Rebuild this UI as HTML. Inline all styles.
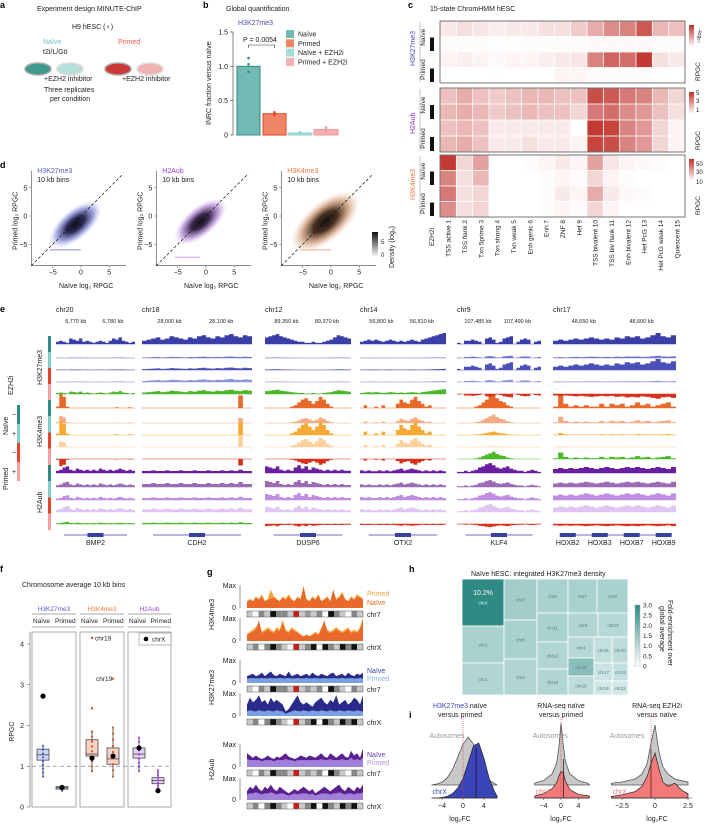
<!DOCTYPE html>
<html><head><meta charset="utf-8">
<style>
html,body{margin:0;padding:0;background:#fff;}
svg{display:block;font-family:"Liberation Sans",sans-serif;}
text{font-family:"Liberation Sans",sans-serif;}
</style></head>
<body>
<svg id="fig" xmlns="http://www.w3.org/2000/svg" width="707" height="824" viewBox="0 0 707 824">
<defs>
<radialGradient id="gK27" cx="50%" cy="50%" r="50%"><stop offset="0" stop-color="#111"/><stop offset="0.35" stop-color="#2a2a55"/><stop offset="0.7" stop-color="#8d92d8" stop-opacity="0.8"/><stop offset="1" stop-color="#c8ccf2" stop-opacity="0"/></radialGradient>
<radialGradient id="gH2A" cx="50%" cy="50%" r="50%"><stop offset="0" stop-color="#111"/><stop offset="0.35" stop-color="#3a2a50"/><stop offset="0.7" stop-color="#b690d8" stop-opacity="0.8"/><stop offset="1" stop-color="#e2ccf2" stop-opacity="0"/></radialGradient>
<radialGradient id="gK4" cx="50%" cy="50%" r="50%"><stop offset="0" stop-color="#111"/><stop offset="0.35" stop-color="#4a3020"/><stop offset="0.7" stop-color="#d8a888" stop-opacity="0.8"/><stop offset="1" stop-color="#f2dccc" stop-opacity="0"/></radialGradient>
<linearGradient id="gDen" x1="0" y1="0" x2="0" y2="1"><stop offset="0" stop-color="#111"/><stop offset="1" stop-color="#f4f4f4"/></linearGradient>
<linearGradient id="gRed" x1="0" y1="0" x2="0" y2="1"><stop offset="0" stop-color="#c0302a"/><stop offset="1" stop-color="#fff"/></linearGradient>
<linearGradient id="gTeal" x1="0" y1="0" x2="0" y2="1"><stop offset="0" stop-color="#2f8a84"/><stop offset="1" stop-color="#fff"/></linearGradient>
</defs>

<!-- Panel a -->
<g font-size="7">
<text x="0" y="8" font-weight="bold" font-size="9">a</text>
<text x="37" y="11" fill="#222">Experiment design MINUTE-ChIP</text>
<text x="72" y="29" fill="#222">H9 hESC (♀)</text>
<text x="43" y="44" fill="#6cc3bc">Naïve</text>
<text x="118" y="44" fill="#e8564a">Primed</text>
<text x="43" y="54" fill="#222">t2i/L/Gö</text>
<ellipse cx="38" cy="69" rx="13" ry="6" fill="#3f9a8e" stroke="#aaa" stroke-width="1.5"/>
<ellipse cx="70" cy="69" rx="13" ry="6" fill="#b7e0da" stroke="#ddd" stroke-width="1.5"/>
<ellipse cx="118" cy="69" rx="13" ry="6" fill="#cc3838" stroke="#aaa" stroke-width="1.5"/>
<ellipse cx="150" cy="69" rx="13" ry="6" fill="#eeb4b4" stroke="#ddd" stroke-width="1.5"/>
<text x="44" y="81" fill="#222">+EZH2 inhibitor</text>
<text x="122" y="81" fill="#222">+EZH2 inhibitor</text>
<text x="44" y="92" fill="#222">Three replicates</text>
<text x="50" y="101" fill="#222">per condition</text>
</g>

<g id="pb" font-size="7"></g>
<g id="pc" font-size="6.5"></g>
<g id="pd" font-size="7"></g>
<g id="pe" font-size="6.5"></g>
<g id="pf" font-size="6.5"></g>
<g id="pg" font-size="7"></g>
<g id="ph" font-size="6.5"></g>
<g id="pi" font-size="7"></g>
</svg>
<script>
// ---------- data ----------
const bCategories = ["Naïve","Primed","Naïve + EZH2i","Primed + EZH2i"];
const bValues = [1.0, 0.31, 0.03, 0.08];
const bReplicates = [[1.12,0.92,1.03],[0.33,0.29,0.31],[0.04,0.02,0.03],[0.11,0.06,0.08]];
const bTicks = [0, 0.5, 1.0, 1.5];

const cStates = ["TSS active 1","TSS flank 2","Txn 5prime 3","Txn strong 4","Txn weak 5","Enh genic 6","Enh 7","ZNF 8","Het 9","TSS bivalent 10","TSS biv flank 11","Enh bivalent 12","Het PcG 13","Het PcG weak 14","Quiescent 15"];
const cK27 = [[.1,.15,.12,.08,.1,.1,.15,.15,.25,.4,.55,.6,.8,.35,.3],[.02,.02,.02,.01,.01,.02,.02,.02,.02,.03,.03,.03,.03,.02,.02],[.05,.08,.05,.03,.05,.05,.08,.1,.12,.6,.75,.7,.95,.15,.1],[0,0,0,0,0,0,0,.05,.05,.02,.02,.02,.02,0,0]];
const cH2A = [[.3,.4,.3,.25,.3,.35,.35,.3,.3,.85,.8,.65,.6,.35,.2],[.35,.4,.35,.25,.3,.35,.3,.3,.2,.65,.7,.55,.5,.3,.15],[.3,.35,.3,.1,.1,.1,.1,.1,0,.95,.9,.6,.5,.2,.05],[.35,.4,.3,.1,.1,.15,.1,.1,.05,.9,.85,.6,.5,.2,.05]];
const cK4 = [[.95,.2,.45,0,0,.02,.05,.1,.05,.45,.12,.05,.03,.02,0],[.6,.15,.35,0,0,0,.02,.05,.02,.2,.05,.02,0,0,0],[.65,.15,.2,0,0,0,.02,.1,.05,.4,.1,.03,.02,0,0],[.55,.15,.2,0,0,0,.02,.05,.02,.2,.05,0,0,0,0]];

const dMarks = ["H3K27me3","H2Aub","H3K4me3"];
const dCentersX = [-1, -1, -1];
const dCentersY = [-1.5, -1, -1];
const dTicks = [-5, 0, 5];

const eChroms = ["chr20","chr18","chr12","chr14","chr9","chr17"];
const eKb = [["6,770 kb","6,780 kb"],["28,000 kb","28,100 kb"],["89,350 kb","89,370 kb"],["56,800 kb","56,810 kb"],["107,485 kb","107,490 kb"],["48,650 kb","48,600 kb"]];
const eGenes = [["BMP2"],["CDH2"],["DUSP6"],["OTX2"],["KLF4"],["HOXB2","HOXB3","HOXB7","HOXB9"]];
const eK27 = [[.2,.3,.2,.1,.5,.4,.3,.5,.2,.3,.2,.1,.2,.3,.2,.1,.3,.5,.4,.6,.3,.2,.1,.2],[.3,.4,.5,.6,.4,.5,.7,.6,.5,.4,.6,.5,.7,.8,.6,.5,.7,.6,.8,.9,.7,.6,.8,.7],[.6,.7,.8,.9,.7,.6,.5,.4,.3,.2,.2,.1,.1,.2,.1,.1,.2,.3,.4,.6,.8,.7,.6,.5],[.2,.3,.4,.3,.4,.3,.2,.3,.4,.3,.2,.3,.2,.3,.4,.3,.2,.4,.5,.6,.7,.8,.9,1],[.1,0,.3,.3,.4,.3,.2,0,.5,.6,.4,.1,.2,.5,.6,.7,0,.2,.4,.5,.4,0,.2,.3],[.3,.4,.3,.4,.5,.4,.5,.6,.5,.4,.5,.4,.6,.5,.7,.6,.7,.5,.6,.8,1,.7,.6,.8]];
const eK4 = [[.1,1,.8,.1,0,0,0,0,0,0,0,0,0,0,0,0,0,0,.05,0,0,0,.05,0],[0,0,0,0,0,0,0,0,0,0,0,0,0,0,0,0,0,0,0,0,0,.9,0,0],[0,0,0,0,0,0,0,.1,.2,.4,.6,.7,.5,.3,.5,.8,.6,.3,.1,0,0,0,0,0],[0,.2,0,0,.1,0,.2,0,0,0,.3,.6,.4,.3,.6,.8,.5,.3,.1,.2,0,0,0,0],[0,0,0,0,0,.1,.2,.4,.6,.8,1,.7,.5,.4,.2,.1,0,0,0,0,0,0,0,0],[.1,.9,.3,.1,.2,.1,.2,.1,.1,.3,.1,.3,.2,.3,.1,.2,.4,.2,.3,.1,.2,.3,.4,.1]];
const eH2A = [[.2,.3,.5,.6,.3,.2,.4,.3,.2,.3,.2,.3,.2,.4,.3,.2,.3,.2,.3,.4,.3,.2,.3,.2],[.3,.3,.4,.3,.3,.4,.3,.3,.4,.3,.3,.4,.3,.3,.4,.3,.3,.4,.3,.4,.3,.5,.3,.3],[.6,.5,.4,.6,.3,.2,.3,.2,.5,.7,.4,.6,.3,.5,.4,.3,.2,.3,.2,.3,.2,.3,.2,.2],[.3,.2,.3,.2,.2,.3,.2,.3,.2,.3,.4,.5,.3,.4,.5,.4,.3,.2,.3,.2,.3,.2,.3,.2],[.1,.1,.2,.1,.2,.3,.5,.6,.8,.9,.7,.5,.4,.5,.6,.4,.3,.2,.2,.1,.2,.3,.2,.1],[.4,.5,.4,.5,.4,.5,.6,.5,.4,.5,.6,.5,.4,.5,.6,.5,.6,.5,.4,.5,.6,.5,.4,.6]];
const eK27Scale = [[1,1,1,1,1,1],[.08,.15,.05,.05,.3,.2],[.1,.25,.08,.1,1,1],[.1,.3,.05,.08,.3,.1]];
const eK4Scale = [[1,1,1,1,1,1],[.5,.4,.5,.5,.6,.5],[1,1,1.2,1.2,.25,.15],[.4,.9,.8,.8,.05,.05]];
const eH2AScale = [[1,.6,1,.8,1,.9],[.8,.9,.9,.8,.7,.8],[.7,.6,.9,.9,.8,1],[.9,.8,.8,.8,.8,1]];
const eK27Diff = [1,1,1,1,-1,-1];
const eK4Diff = [-1,-1,-1,-1,1,1];
const eH2ADiff = [1,1,-1,-1,-1,-1];

const fGroups = ["H3K27me3","H3K4me3","H2Aub"];
const fBoxLow = [1.15,0.44,1.25,1.05,1.2,0.57];
const fBoxMed = [1.28,0.47,1.3,1.18,1.3,0.65];
const fBoxHigh = [1.42,0.5,1.65,1.45,1.45,0.72];
const fWhiskLow = [0.75,0.4,0.88,0.75,0.88,0.4];
const fWhiskHigh = [1.5,0.52,1.85,1.95,1.7,0.9];
const fChrX = [2.72,0.48,1.2,1.25,1.45,0.4];
const fOutliers = [[],[],[2.42,4.15],[3.15],[],[]];
const fTicks = [0,1,2,3,4];

const gK4Primed7 = [.3,.4,.3,.5,.4,.6,.3,.4,.8,.5,.4,.3,.5,.4,.6,.4,.3,.5,.4,.9,.4,.3,.5,.4,.6,.3,.4,.5,.3,.6,.4,.5,.7,.4,.3,.5,.4,.6,.5,.4];
const gK4Naive7 = [.25,.35,.3,.45,.35,.5,.3,.35,.4,.45,.35,.3,.45,.35,.5,.35,.3,.45,.35,.95,.35,.3,.45,.35,.55,.3,.35,.45,.3,.8,.35,.45,.6,.35,.3,.45,.35,.5,.45,.35];
const gK4PrimedX = [.3,.4,.5,.6,.8,.4,.5,.6,.5,.4,.6,.5,.9,.5,.4,.6,.5,.4,.3,.2,.3,.2,.3,.4,.3,.6,.8,.5,.4,.5,.6,.5,.4,.5,.6,.4,.5,.4,.6,1];
const gK4NaiveX = [.25,.35,.4,.5,.9,.35,.4,.5,.4,.35,.5,.4,.8,.4,.35,.5,.4,.35,.25,.2,.25,.2,.25,.35,.25,.5,.9,.4,.35,.4,.5,.4,.35,.4,.5,.35,.4,.35,.5,.95];
const gK27Naive7 = [.3,.35,.4,.3,.35,.45,.3,.4,.5,.35,.3,.4,.35,.3,.5,.3,.35,.4,.3,.35,.4,.3,.45,.35,.3,.4,.35,.3,.4,.45,.3,.35,.4,.3,.45,.35,.3,.4,.35,.45];
const gK27Primed7 = [.2,.2,.22,.2,.2,.22,.2,.2,.22,.2,.2,.22,.2,.2,.22,.2,.2,.22,.2,.2,.22,.2,.2,.22,.2,.2,.22,.2,.2,.22,.2,.2,.22,.2,.2,.22,.2,.2,.22,.2];
const gK27NaiveX = [.5,.8,.6,.7,.9,.6,.7,.5,.8,.6,.7,.6,.5,.2,.3,.5,.7,.9,.6,.5,.6,.5,.4,.6,.7,.8,.6,.5,.7,.6,.9,.5,.6,.7,.5,.6,.8,.7,.5,.9];
const gK27PrimedX = [.2,.25,.22,.2,.25,.22,.2,.25,.22,.2,.25,.22,.2,.1,.15,.2,.25,.22,.2,.25,.22,.2,.25,.22,.2,.25,.22,.2,.25,.22,.2,.25,.22,.2,.25,.22,.2,.25,.22,.2];
const gH2ANaive7 = [.6,.5,.4,.5,.4,.35,.4,.5,.4,.35,.45,.4,.5,.6,.45,.4,.35,.4,.5,.45,.4,.5,.45,.4,.5,.6,.45,.4,.6,.5,.4,.5,.6,.45,.4,.7,.5,.6,.4,.8];
const gH2APrimed7 = [.35,.3,.3,.3,.3,.25,.3,.3,.3,.25,.3,.3,.3,.35,.3,.3,.25,.3,.3,.3,.3,.3,.3,.3,.3,.35,.3,.3,.35,.3,.3,.3,.35,.3,.3,.4,.3,.35,.3,.4];
const gH2ANaiveX = [.4,.6,.5,.7,.5,.4,.6,.5,.7,.5,.4,.6,.5,.4,.3,.4,.5,.4,.5,.6,.5,.4,.5,.3,.4,.5,.6,.5,.4,.5,.6,.7,.5,.4,.6,.5,.4,.6,.5,.7];
const gH2APrimedX = [.25,.3,.3,.35,.3,.25,.3,.3,.35,.3,.25,.3,.3,.25,.2,.25,.3,.25,.3,.3,.3,.25,.3,.2,.25,.3,.3,.3,.25,.3,.3,.35,.3,.25,.3,.3,.25,.3,.3,.35];
const gIdeo7 = [1,0,2,1,3,2,2,1,3,1,4,1,2,0,3,2,1,0,2,1];
const gIdeoX = [1,2,0,2,3,2,1,0,4,1,2,3,0,3,2,1,3,2,3,1];

const hChroms = ["chrX","chr2","chr1","chr3","chr5","chr4","chr6","chr11","chr12","chr10","chr7","chr8","chr9","chr13","chr4","chr18","chr15","chr16","chr20","chr17","chr21","chr19","chr22"];
const hFold = [3.0,1.1,1.0,1.2,1.1,1.0,1.1,1.1,1.0,1.0,1.1,1.1,1.0,0.9,0.9,1.6,0.8,0.7,0.8,0.6,0.7,0.5,0.5];
const hTicks = [0,0.5,1.0,1.5,2.0,2.5,3.0];

const iX = [-6,-5,-4,-3,-2,-1,0,1,2,3,4,5,6,7];
const i1Auto = [0,.02,.06,.15,.32,.58,.85,1.0,.85,.55,.28,.1,.03,0];
const i1ChrX = [0,0,.01,.03,.08,.18,.35,.65,.95,1.0,.72,.35,.12,.03];
const i2X = [-8,-6,-4,-2,-1,-.5,0,.5,1,2,4,6,8];
const i2Auto = [.01,.03,.07,.18,.35,.6,1.0,.65,.38,.18,.07,.03,.01];
const i2ChrX = [.03,.05,.1,.22,.35,.5,.62,.6,.4,.2,.08,.06,.04];
const i3X = [-3.5,-2.5,-1.5,-1,-.6,-.3,0,.3,.6,1,1.5,2,2.5];
const i3Auto = [.03,.05,.1,.18,.35,.7,1.0,.55,.3,.18,.1,.07,.05];
const i3ChrX = [.03,.06,.12,.22,.4,.65,.85,.55,.3,.22,.28,.15,.08];

// ---------- helpers ----------
const NS="http://www.w3.org/2000/svg";
function mk(parent,tag,attrs,txt){const e=document.createElementNS(NS,tag);for(const k in attrs)e.setAttribute(k,attrs[k]);if(txt!==undefined)e.textContent=txt;parent.appendChild(e);return e;}
function redScale(v){const r=Math.round(255-(255-192)*v),g=Math.round(255-(255-48)*v),b=Math.round(255-(255-42)*v);return `rgb(${r},${g},${b})`;}
function tealScale(v){const t=Math.min(1,v/3);const r=Math.round(240-(240-47)*t),g=Math.round(250-(250-138)*t),b=Math.round(249-(249-132)*t);return `rgb(${r},${g},${b})`;}

// ---------- panel b ----------
(function(){
const g=document.getElementById('pb');
mk(g,'text',{x:203,y:8,'font-weight':'bold','font-size':9},'b');
mk(g,'text',{x:226,y:11,fill:'#222'},'Global quantification');
mk(g,'text',{x:238,y:25,fill:'#4a4ab8'},'H3K27me3');
const y0=135, ys=(135-32)/1.5;
const yS=v=>y0-v*ys;
mk(g,'line',{x1:233,y1:yS(1.5),x2:233,y2:y0,stroke:'#333','stroke-width':0.6});
for(const t of bTicks){mk(g,'line',{x1:230,y1:yS(t),x2:233,y2:yS(t),stroke:'#333','stroke-width':0.6});
const tx=mk(g,'text',{x:228,y:yS(t)+2.5,'text-anchor':'end',fill:'#222'},t===0?'0':t.toFixed(1));
}
const yt=mk(g,'text',{x:0,y:0,transform:'translate(211,125) rotate(-90)',fill:'#222'},'INRC fraction versus naïve');

const bx=[237,263,288,314], bw=[23,23,24,24];
const fills=['#72bbb5','#f08466','#a6dcd7','#f7b0b2'], strokes=['#2f8a84','#e2452a','#8fd3cd','#f29a9e'];
bValues.forEach((v,i)=>{
const r=mk(g,'rect',{x:bx[i],y:yS(v),width:bw[i],height:y0-yS(v),fill:fills[i],stroke:strokes[i],'stroke-width':1});

bReplicates[i].forEach(rv=>mk(g,'circle',{cx:bx[i]+bw[i]/2,cy:yS(rv),r:1.3,fill:strokes[i]}));
});
mk(g,'polyline',{points:`${bx[0]+bw[0]/2},48 ${bx[0]+bw[0]/2},45 ${bx[1]+bw[1]/2},45 ${bx[1]+bw[1]/2},48`,fill:'none',stroke:'#333','stroke-width':0.6});
mk(g,'text',{x:243,y:42,fill:'#222'},'P = 0.0054');
bCategories.forEach((c,i)=>{
const ly=30+i*9.3;
mk(g,'rect',{x:286,y:ly,width:8,height:8,fill:fills[i]});
const t=mk(g,'text',{x:298,y:ly+6.5,fill:'#222'},c);

});
})();

// ---------- panel c ----------
(function(){
const g=document.getElementById('pc');
mk(g,'text',{x:408,y:8,'font-weight':'bold','font-size':9},'c');
mk(g,'text',{x:430,y:11,fill:'#222','font-size':7},'15-state ChromHMM hESC');
const x0=440,x1=685,cw=(x1-x0)/15;
const blocks=[[cK27,21,83,'H3K27me3','#4a4ab8'],[cH2A,88,152,'H2Aub','#8a35c0'],[cK4,155,217,'H3K4me3','#ef7a3a']];
blocks.forEach((b)=>{
const [data,top,bot,name,col]=b; const rh=(bot-top)/4;
data.forEach((row,ri)=>row.forEach((v,ci)=>{
const r=mk(g,'rect',{x:x0+ci*cw+0.4,y:top+ri*rh+0.4,width:cw-0.8,height:rh-0.8,fill:redScale(v)});

}));
mk(g,'rect',{x:x0,y:top,width:x1-x0,height:bot-top,fill:'none',stroke:'#555','stroke-width':0.8});
mk(g,'text',{transform:`translate(${415},${(top+bot)/2+14}) rotate(-90)`,fill:col,'font-size':7},name);
mk(g,'text',{transform:`translate(${425},${top+rh*1.6}) rotate(-90)`,fill:'#222'},'Naïve');
mk(g,'text',{transform:`translate(${425},${top+rh*3.8}) rotate(-90)`,fill:'#222'},'Primed');
mk(g,'line',{x1:420,y1:top+1,x2:420,y2:bot-1,stroke:'#888','stroke-width':0.5});
mk(g,'rect',{x:430,y:top+rh+1,width:4,height:rh-2,fill:'#111'});
mk(g,'rect',{x:430,y:top+3*rh+1,width:4,height:rh-2,fill:'#111'});
mk(g,'rect',{x:689,y:top+4,width:5,height:22,fill:'url(#gRed)'});
mk(g,'text',{transform:`translate(${700},${bot-2}) rotate(-90)`,fill:'#222'},'RPGC');
});
[['5',95],['3',103],['1',112]].forEach(t=>mk(g,'text',{x:696,y:t[1],fill:'#222','font-size':6},t[0]));
[['50',166],['30',174],['10',184]].forEach(t=>mk(g,'text',{x:696,y:t[1],fill:'#222','font-size':6},t[0]));
mk(g,'text',{transform:'translate(698,28) rotate(90)',fill:'#222','font-size':5.5},'−log₁₀');
mk(g,'text',{transform:'translate(434,246) rotate(-90)',fill:'#222'},'EZH2i');
cStates.forEach((s,i)=>{
const t=mk(g,'text',{transform:`translate(${x0+(i+0.5)*cw+2.5},220) rotate(-90)`,'text-anchor':'end',fill:'#222'},s);

});
})();

// ---------- panel d ----------
(function(){
const g=document.getElementById('pd');
mk(g,'text',{x:0,y:168,'font-weight':'bold','font-size':9},'d');
const zeroX=[81,206,331], zeroY=216, s=5.65;
const grads=['url(#gK27)','url(#gH2A)','url(#gK4)'], cols=['#5a5ac8','#9a45d0','#ef7a3a'], lineCol=['#8a8fe0','#c6a0e8','#e8b090'];
dMarks.forEach((m,i)=>{
const xs=v=>zeroX[i]+v*s, ysf=v=>zeroY-v*s;
const axL=xs(-8.8), axB=ysf(-8.8);
mk(g,'line',{x1:axL,y1:ysf(8),x2:axL,y2:axB,stroke:'#444','stroke-width':0.6});
mk(g,'line',{x1:axL,y1:axB,x2:xs(8),y2:axB,stroke:'#444','stroke-width':0.6});
const cx=xs(dCentersX[i]), cy=ysf(dCentersY[i]);
const rx= i===2?42:32, ry= i===2?20:15;
const el=mk(g,'ellipse',{cx:cx,cy:cy,rx:rx,ry:ry,fill:grads[i],transform:`rotate(-40 ${cx} ${cy})`});

mk(g,'line',{x1:xs(-5.5),y1:ysf(i===1?-7.3:-6),x2:xs(i===1?-1:0),y2:ysf(i===1?-7.3:-6),stroke:lineCol[i],'stroke-width':1});
mk(g,'line',{x1:axL,y1:axB,x2:xs(7.5),y2:ysf(7.5),stroke:'#111','stroke-width':0.7,'stroke-dasharray':'3,2'});
dTicks.forEach(t=>{
mk(g,'line',{x1:xs(t),y1:axB,x2:xs(t),y2:axB+2,stroke:'#444','stroke-width':0.5});
mk(g,'text',{x:xs(t),y:axB+9,'text-anchor':'middle',fill:'#222'},String(t).replace('-','−'));
mk(g,'line',{x1:axL-2,y1:ysf(t),x2:axL,y2:ysf(t),stroke:'#444','stroke-width':0.5});
mk(g,'text',{x:axL-4,y:ysf(t)+2.5,'text-anchor':'end',fill:'#222'},String(t).replace('-','−'));
});
mk(g,'text',{x:axL+6,y:173,fill:cols[i]},m);
mk(g,'text',{x:axL+6,y:182,fill:'#222'},'10 kb bins');
mk(g,'text',{x:zeroX[i]-22,y:288,fill:'#222'},'Naïve log₂ RPGC');
mk(g,'text',{transform:`translate(${axL-14},${250}) rotate(-90)`,fill:'#222'},'Primed log₂ RPGC');
});
mk(g,'rect',{x:372,y:232,width:6,height:24,fill:'url(#gDen)'});
mk(g,'text',{x:381,y:244,fill:'#222','font-size':6},'5');
mk(g,'text',{x:381,y:257,fill:'#222','font-size':6},'0');
mk(g,'text',{transform:'translate(394,268) rotate(-90)',fill:'#222'},'Density (log₂)');
})();

// ---------- panel e ----------
(function(){
const g=document.getElementById('pe');
mk(g,'text',{x:0,y:312,'font-weight':'bold','font-size':9},'e');
const colX=[[56,135],[142,252],[265,351],[360,446],[457,541],[553,676]];
const base=[344,358,370,382,394, 408,423,435,447,459, 473,487,500,512,524];
const K27c=['#3a3fa8','#7076d0','#4a50b8','#8e95e0'], K4c=['#e8692a','#f4ac84','#f7a935','#fbd09a'], H2c=['#6a1fa0','#9b6bb5','#c08ee0','#e0c4f2'];
function area(x0,x1,by,h,prof,sc,color,sign){
const n=prof.length, w=(x1-x0)/n; let d=`M${x0},${by}`;
prof.forEach((v,k)=>{const y=by-sign*Math.min(1,v*sc)*h; d+=` L${x0+k*w},${y} L${x0+(k+1)*w},${y}`;});
d+=` L${x1},${by} Z`;
const p=mk(g,'path',{d:d,fill:color});

mk(g,'line',{x1:x0,y1:by,x2:x1,y2:by,stroke:color,'stroke-width':0.5});
}
eChroms.forEach((c,ci)=>{
const [x0,x1]=colX[ci];
mk(g,'text',{x:x0,y:312,fill:'#222','font-size':7},c);
mk(g,'text',{x:x0+(x1-x0)*0.25,y:323,'text-anchor':'middle',fill:'#222','font-size':5.5},eKb[ci][0]);
mk(g,'text',{x:x0+(x1-x0)*0.72,y:323,'text-anchor':'middle',fill:'#222','font-size':5.5},eKb[ci][1]);
for(let t=0;t<4;t++){
area(x0,x1,base[t],11,eK27[ci],eK27Scale[t][ci],K27c[t],1);
area(x0,x1,base[5+t],14,eK4[ci],eK4Scale[t][ci],K4c[t],1);
area(x0,x1,base[10+t],11,eH2A[ci],eH2AScale[t][ci],H2c[t],1);
}
area(x0,x1,base[4],6,eK27[ci],0.8,eK27Diff[ci]>0?'#4cb82a':'#d8301a',eK27Diff[ci]);
area(x0,x1,base[9],8,eK4[ci],0.9,eK4Diff[ci]>0?'#4cb82a':'#d8301a',eK4Diff[ci]);
area(x0,x1,base[14],5,eH2A[ci],0.7,eH2ADiff[ci]>0?'#4cb82a':'#d8301a',eH2ADiff[ci]);
const names=eGenes[ci]; const gy=535;
mk(g,'line',{x1:x0+(x1-x0)*0.1,y1:gy,x2:x1-(x1-x0)*0.1,y2:gy,stroke:'#3a3fa8','stroke-width':0.8});
names.forEach((n,k)=>{
const cx=x0+(x1-x0)*(names.length===1?0.5:(0.12+k*0.26));
mk(g,'rect',{x:cx-8,y:gy-2,width:16,height:4,fill:'#3a3fa8'});
const t=mk(g,'text',{x:cx,y:545,'text-anchor':'middle',fill:'#222','font-size':7},n);

});
});
[['H3K27me3',370],['H3K4me3',432],['H2Aub',498]].forEach(l=>mk(g,'text',{transform:`translate(42,${l[1]+15}) rotate(-90)`,fill:'#222','font-size':7},l[0]));
const stripC=['#2f8a84','#7fd0c8','#e2452a','#f7a0a0'];
[[336,400],[400,465],[465,530]].forEach(r=>{const h=(r[1]-r[0])/4;stripC.forEach((c,k)=>mk(g,'rect',{x:48,y:r[0]+k*h,width:3,height:h,fill:c}));});
mk(g,'text',{transform:'translate(13,395) rotate(-90)',fill:'#222','font-size':7},'EZH2i');
mk(g,'text',{transform:'translate(8,435) rotate(-90)',fill:'#222','font-size':7},'Naïve');
mk(g,'text',{transform:'translate(8,490) rotate(-90)',fill:'#222','font-size':7},'Primed');
stripC.forEach((c,k)=>mk(g,'rect',{x:17,y:405+k*19,width:3,height:19,fill:c}));
['−','+','−','+'].forEach((s,k)=>mk(g,'text',{x:12,y:417+k*19,fill:'#222','font-size':7},s));
})();

// ---------- panel f ----------
(function(){
const g=document.getElementById('pf');
mk(g,'text',{x:0,y:572,'font-weight':'bold','font-size':9},'f');
mk(g,'text',{x:22,y:587,fill:'#222','font-size':7},'Chromosome average 10 kb bins');
const y0=807, u=40.75, yS=v=>y0-v*u;
const pans=[[32,76],[80,124],[128,171]], hc=['#5a5ad0','#ef7a3a','#9a45d0'];
const fill=['#ccd6f2','#f6d2c4','#e2d0f0'], dotc=['#4a5ad0','#d0501a','#9a45d0'];
pans.forEach((p,i)=>{
mk(g,'rect',{x:p[0],y:632,width:p[1]-p[0],height:y0-632,fill:'none',stroke:'#888','stroke-width':0.7});
mk(g,'text',{x:(p[0]+p[1])/2,y:611,'text-anchor':'middle',fill:hc[i]},fGroups[i]);
mk(g,'line',{x1:p[0],y1:614,x2:p[1],y2:614,stroke:'#555','stroke-width':0.6});
mk(g,'text',{x:p[0]+1,y:623,fill:'#222'},'Naïve');
mk(g,'text',{x:(p[0]+p[1])/2+1,y:623,fill:'#222'},'Primed');
mk(g,'line',{x1:p[0],y1:627,x2:p[1],y2:627,stroke:'#555','stroke-width':0.6});
});
mk(g,'line',{x1:32,y1:yS(1),x2:171,y2:yS(1),stroke:'#888','stroke-width':0.8,'stroke-dasharray':'4,3'});
fTicks.forEach(t=>{mk(g,'text',{x:24,y:yS(t)+2.5,'text-anchor':'end',fill:'#222','font-size':7},String(t));
mk(g,'line',{x1:27,y1:yS(t),x2:30,y2:yS(t),stroke:'#444','stroke-width':0.5});});
mk(g,'line',{x1:30,y1:yS(0),x2:30,y2:yS(4.3),stroke:'#444','stroke-width':0.5});
mk(g,'text',{transform:`translate(14,${yS(1.6)}) rotate(-90)`,fill:'#222','font-size':7},'RPGC');
const cx=[43,62,92,113,139,158];
cx.forEach((x,i)=>{
const gi=Math.floor(i/2);
mk(g,'line',{x1:x,y1:yS(fWhiskLow[i]),x2:x,y2:yS(fWhiskHigh[i]),stroke:'#222','stroke-width':0.7});
const b=mk(g,'rect',{x:x-6,y:yS(fBoxHigh[i]),width:12,height:(fBoxHigh[i]-fBoxLow[i])*u,fill:fill[gi],stroke:'#333','stroke-width':0.7});

mk(g,'line',{x1:x-6,y1:yS(fBoxMed[i]),x2:x+6,y2:yS(fBoxMed[i]),stroke:'#333','stroke-width':0.7});
const n=8;for(let k=0;k<=n;k++){const v=fWhiskLow[i]+(fWhiskHigh[i]-fWhiskLow[i])*k/n;mk(g,'circle',{cx:x,cy:yS(v),r:1.1,fill:dotc[gi]});}
fOutliers[i].forEach(o=>mk(g,'circle',{cx:x,cy:yS(o),r:1.2,fill:dotc[gi]}));
const d=mk(g,'circle',{cx:x,cy:yS(fChrX[i]),r:2.6,fill:'#000'});

});
mk(g,'text',{x:95,y:yS(4.15)+2.5,fill:'#222'},'chr19');
mk(g,'text',{x:96,y:yS(3.15)+2.5,fill:'#222'},'chr19');
mk(g,'rect',{x:139,y:633,width:32,height:12,fill:'#fff',stroke:'#888','stroke-width':0.6});
mk(g,'circle',{cx:146,cy:639,r:2.3,fill:'#000'});
mk(g,'text',{x:152,y:641.5,fill:'#222'},'chrX');
})();

// ---------- panel g ----------
(function(){
const g=document.getElementById('pg');
mk(g,'text',{x:207,y:575,'font-weight':'bold','font-size':9},'g');
const x0=247,x1=363;
function tr(prof,top,bot,color){
const n=prof.length,w=(x1-x0)/(n-1);let d=`M${x0},${bot}`;
prof.forEach((v,k)=>{d+=` L${x0+k*w},${bot-v*(bot-top)}`;});d+=` L${x1},${bot} Z`;
const p=mk(g,'path',{d:d,fill:color});}
function ideo(arr,y){const n=arr.length,w=(x1-x0)/n;const cs=['#fff','#c8c8c8','#888','#111','#999'];
arr.forEach((v,k)=>mk(g,'rect',{x:x0+k*w,y:y,width:w,height:6,fill:(k===Math.floor(n*0.42))?'#c0201a':cs[v]}));
mk(g,'rect',{x:x0,y:y,width:x1-x0,height:6,fill:'none',stroke:'#555','stroke-width':0.5});}
const rows=[
[gK4Primed7,gK4Naive7,585,608,611,'#f6a03a','#e8692a','chr7'],
[gK4PrimedX,gK4NaiveX,618,641,644,'#f6a03a','#e8692a','chrX'],
[gK27Naive7,gK27Primed7,660,683,686,'#2a2a8a','#7aa0e0','chr7'],
[gK27NaiveX,gK27PrimedX,693,716,719,'#2a2a8a','#7aa0e0','chrX'],
[gH2ANaive7,gH2APrimed7,744,767,770,'#5a2090','#a080d8','chr7'],
[gH2ANaiveX,gH2APrimedX,778,800,803,'#5a2090','#a080d8','chrX']];
const ideos=[gIdeo7,gIdeoX];
rows.forEach((r,i)=>{
tr(r[0],r[2],r[3],r[5]);tr(r[1],r[2],r[3],r[6]);
mk(g,'line',{x1:240,y1:r[2],x2:240,y2:r[3],stroke:'#555','stroke-width':0.6});
mk(g,'text',{x:236,y:r[2]+3,'text-anchor':'end',fill:'#222'},'Max');
mk(g,'text',{x:236,y:r[3]+2,'text-anchor':'end',fill:'#222'},'0');
ideo(ideos[i%2],r[4]);
mk(g,'text',{x:367,y:r[4]+6,fill:'#222'},r[7]);
});
mk(g,'text',{x:367,y:596,fill:'#f6a03a'},'Primed');mk(g,'text',{x:367,y:605,fill:'#e8692a'},'Naïve');
mk(g,'text',{x:367,y:673,fill:'#3a3fa8'},'Naïve');mk(g,'text',{x:367,y:681,fill:'#8fb0e8'},'Primed');
mk(g,'text',{x:367,y:757,fill:'#6a3ab0'},'Naïve');mk(g,'text',{x:367,y:765,fill:'#b090e0'},'Primed');
mk(g,'text',{transform:'translate(214,630) rotate(-90)',fill:'#222'},'H3K4me3');
mk(g,'text',{transform:'translate(214,705) rotate(-90)',fill:'#222'},'H3K27me3');
mk(g,'text',{transform:'translate(214,780) rotate(-90)',fill:'#222'},'H2Aub');
})();

// ---------- panel h ----------
(function(){
const g=document.getElementById('ph');
mk(g,'text',{x:409,y:572,'font-weight':'bold','font-size':9},'h');
mk(g,'text',{x:471,y:576,fill:'#222','font-size':7},'Naïve hESC: integrated H3K27me3 density');
const rects=[[462,579,504,626],[462,626,504,663],[462,663,504,695],[504,579,537,620],[504,620,537,659],[504,659,537,695],[537,579,568,613],[537,613,568,642],[537,642,568,669],[537,669,568,695],[568,579,597,613],[597,579,628,613],[568,613,598,637],[598,613,628,637],[568,637,594,658],[568,658,594,676],[568,676,594,695],[594,637,612,663],[612,637,628,663],[594,663,613,681],[613,663,628,681],[594,681,612,695],[612,681,628,695]];
hChroms.forEach((c,i)=>{
const [a,b,cc,d]=rects[i];
const r=mk(g,'rect',{x:a,y:b,width:cc-a,height:d-b,fill:tealScale(hFold[i]),stroke:'#fff','stroke-width':0.8});

mk(g,'text',{x:(a+cc)/2,y:(b+d)/2+2,'text-anchor':'middle',fill:i===0?'#dff':'#5a7a78','font-size':4.5},c);
});
mk(g,'text',{x:483,y:595,'text-anchor':'middle',fill:'#fff','font-size':7},'10.2%');
mk(g,'rect',{x:635,y:605,width:5,height:61,fill:'url(#gTeal)',stroke:'#aaa','stroke-width':0.4});
hTicks.forEach(t=>mk(g,'text',{x:643,y:666-t/3*61+2.5,fill:'#222','font-size':6.5},t===0?'0':t.toFixed(1)));
mk(g,'text',{transform:'translate(668,600) rotate(90)',fill:'#222','font-size':7},'Fold-enrichment over');
mk(g,'text',{transform:'translate(660,606) rotate(90)',fill:'#222','font-size':7},'global average');
})();

// ---------- panel i ----------
(function(){
const g=document.getElementById('pi');
mk(g,'text',{x:409,y:718,'font-weight':'bold','font-size':9},'i');
const plots=[
{xs:iX,a:i1Auto,c:i1ChrX,z:463,u:(484-442)/8,autoTop:737,chrTop:743,col:'#3a45b8',ticks:[-4,0,4],t1:'H3K27me3 naïve',t2:'versus primed',tx:460,med:2.5},
{xs:i2X,a:i2Auto,c:i2ChrX,z:561,u:(577-542)/8,autoTop:723,chrTop:755,col:'#f27a7a',ticks:[-4,0,4],t1:'RNA-seq naïve',t2:'versus primed',tx:561,med:0.6},
{xs:i3X,a:i3Auto,c:i3ChrX,z:655,u:(690-624)/5,autoTop:725,chrTop:745,col:'#f27a7a',ticks:[-2.5,0,2.5],t1:'RNA-seq EZH2i',t2:'versus naïve',tx:657,med:-0.3}];
plots.forEach((p,pi)=>{
const xS=v=>p.z+v*p.u; const base=798, abase=785;
const lo=p.ticks[0]-(pi===2?0.8:2), hi=p.ticks[2]+(pi===2?0.3:2.5);
const clamp=v=>Math.max(lo,Math.min(hi,v));
let d=`M${xS(clamp(p.xs[0]))},${abase}`;p.xs.forEach((x,k)=>d+=` L${xS(clamp(x))},${abase-p.a[k]*(abase-p.autoTop)}`);d+=` L${xS(clamp(p.xs[p.xs.length-1]))},${abase} Z`;
const ap=mk(g,'path',{d:d,fill:'#c8c8c8',stroke:'#555','stroke-width':0.8});

let d2=`M${xS(clamp(p.xs[0]))},${base}`;p.xs.forEach((x,k)=>d2+=` L${xS(clamp(x))},${base-p.c[k]*(base-p.chrTop)}`);d2+=` L${xS(clamp(p.xs[p.xs.length-1]))},${base} Z`;
const cp=mk(g,'path',{d:d2,fill:p.col,stroke:'#222','stroke-width':0.7});

mk(g,'line',{x1:xS(p.med),y1:base,x2:xS(p.med),y2:p.chrTop+4,stroke:'#111','stroke-width':0.7});
mk(g,'line',{x1:xS(pi===2?-0.3:0),y1:base,x2:xS(pi===2?-0.3:0),y2:717,stroke:'#e03030','stroke-width':0.6,'stroke-dasharray':'1,1'});
mk(g,'line',{x1:xS(lo),y1:base,x2:xS(hi),y2:base,stroke:'#333','stroke-width':0.6});
p.ticks.forEach(t=>{mk(g,'line',{x1:xS(t),y1:base,x2:xS(t),y2:base+2,stroke:'#333','stroke-width':0.5});
mk(g,'text',{x:xS(t),y:base+10,'text-anchor':'middle',fill:'#222'},String(t).replace('-','−'));});
mk(g,'text',{x:p.tx,y:821,'text-anchor':'middle',fill:'#222'},'log₂FC');
if(pi===0){const t=mk(g,'text',{x:p.tx,y:708,'text-anchor':'middle',fill:'#222'});
mk(t,'tspan',{fill:'#3a45b8'},'H3K27me3');mk(t,'tspan',{},' naïve');}
else mk(g,'text',{x:p.tx,y:708,'text-anchor':'middle',fill:'#222'},p.t1);
mk(g,'text',{x:p.tx,y:717,'text-anchor':'middle',fill:'#222'},p.t2);
mk(g,'text',{x:xS(lo)-2,y:738,fill:'#999'},'Autosomes');
mk(g,'text',{x:xS(lo)+1,y:794,fill:p.col},'chrX');
});
})();
</script>
</body></html>
